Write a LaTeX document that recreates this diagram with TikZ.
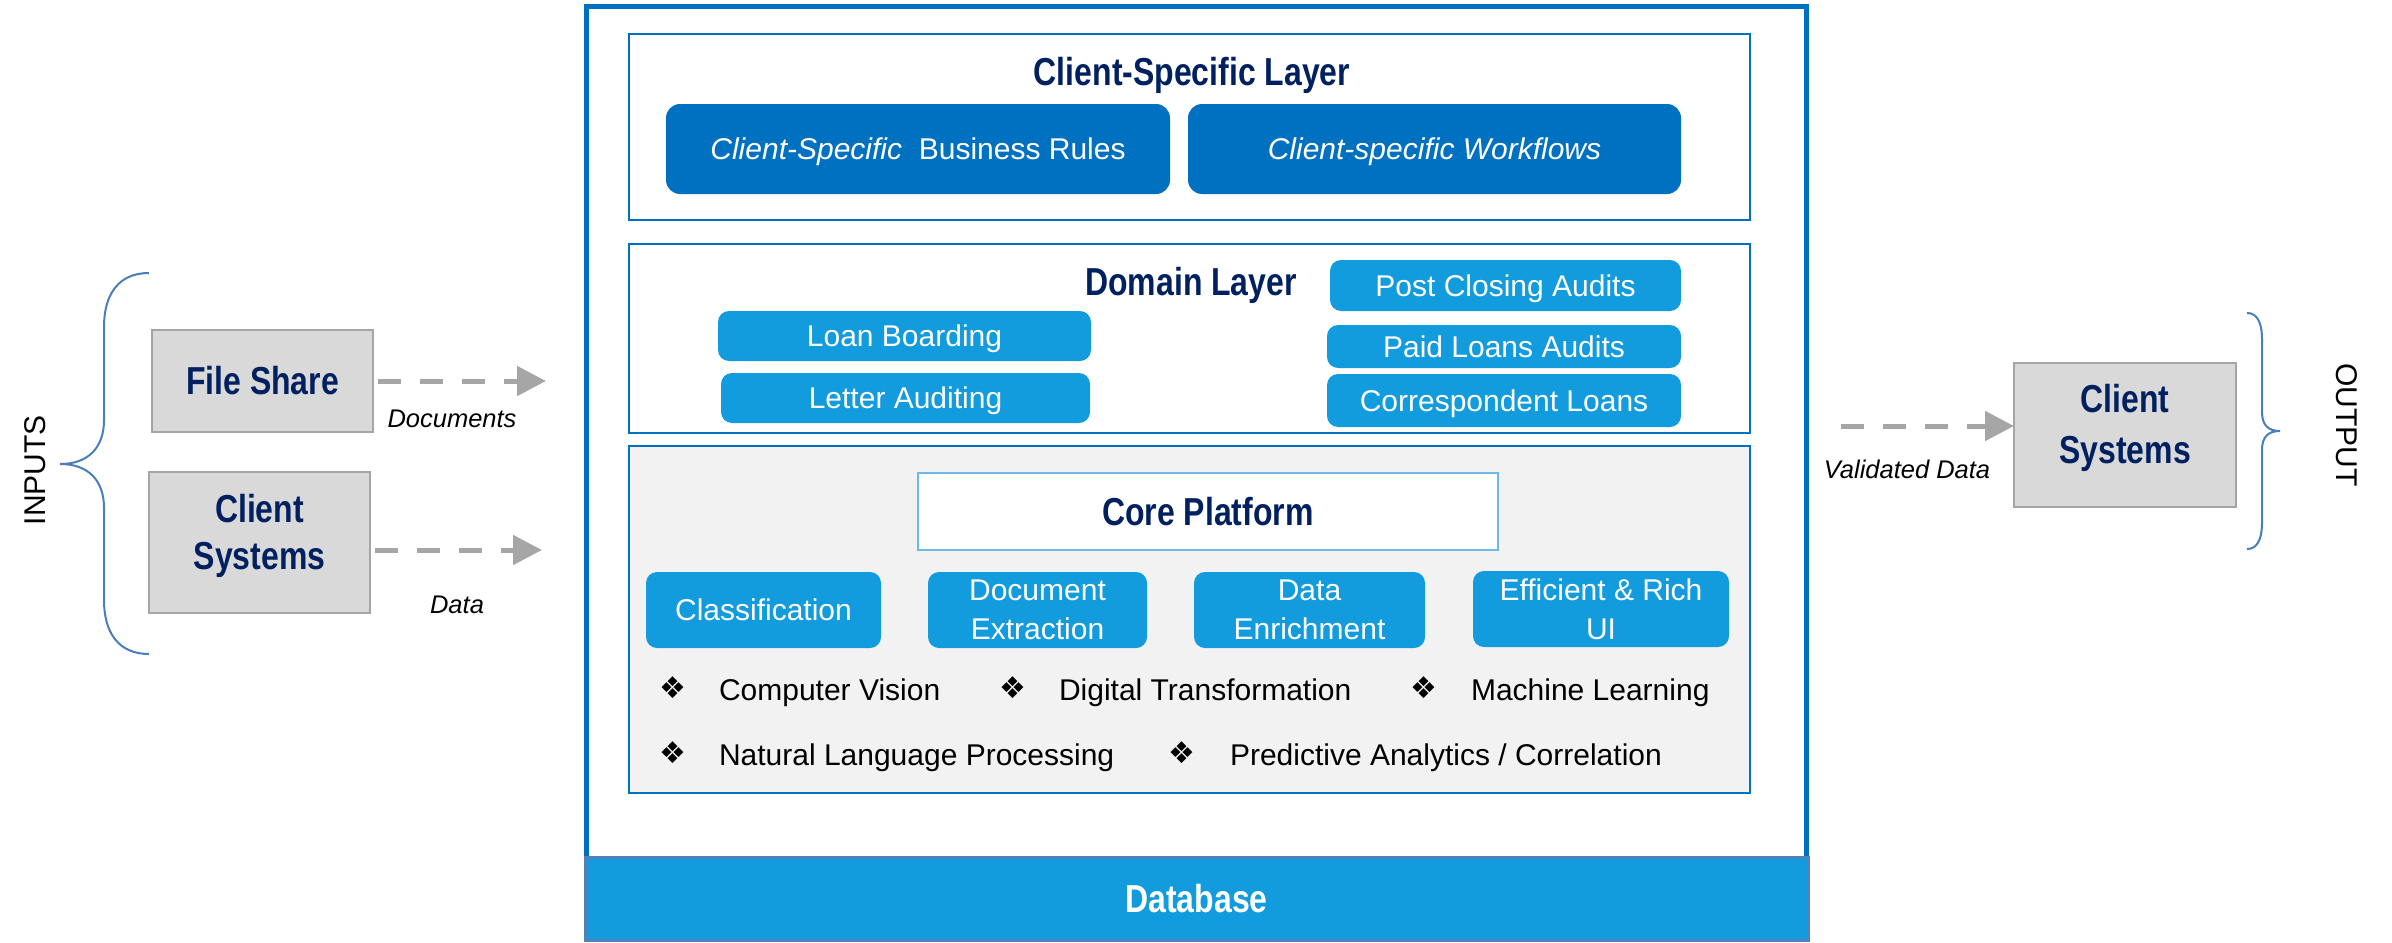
\documentclass[tikz,border=0pt]{standalone}
\usepackage{fontspec}
\setmainfont{Liberation Sans}
\newfontfamily\condfont[FakeStretch=0.82]{Liberation Sans}
\newfontfamily\symfont{DejaVu Sans}
\usetikzlibrary{fit,arrows.meta}
\definecolor{navy}{RGB}{0,32,96}
\definecolor{dblue}{RGB}{0,112,192}
\definecolor{lblue}{RGB}{18,155,221}
\definecolor{boxgrey}{RGB}{217,217,217}
\definecolor{edgegrey}{RGB}{165,165,165}
\definecolor{arrowgrey}{RGB}{166,166,166}
\definecolor{coregrey}{RGB}{242,242,242}
\definecolor{bracecol}{RGB}{74,126,187}
\definecolor{dbedge}{RGB}{79,129,189}
\definecolor{cpedge}{RGB}{110,185,235}
\begin{document}
\begin{tikzpicture}[x=0.5pt,y=-0.5pt,
  every node/.style={inner sep=0pt,outer sep=0pt},
  bodyf/.style={font=\fontsize{15pt}{19.5pt}\selectfont},
  titlef/.style={font=\condfont\bfseries\fontsize{19.5pt}{23.5pt}\selectfont,text=navy},
  layerbox/.style={draw=dblue,line width=1pt},
  greybox/.style={draw=edgegrey,fill=boxgrey,line width=1pt},
  darkbtn/.style={fill=dblue,rounded corners=7pt,text=white,bodyf,text height=10.8pt,text depth=0pt},
  lightbtn/.style={fill=lblue,rounded corners=5.5pt,text=white,bodyf,text height=10.8pt,text depth=0pt},
  lightbtntwo/.style={fill=lblue,rounded corners=5.5pt,text=white,bodyf,align=center},
  bulletmark/.style={font=\symfont\fontsize{15pt}{17pt}\selectfont},
  itemtext/.style={bodyf,anchor=base west},
  flowlabel/.style={font=\itshape\fontsize{12.75pt}{15pt}\selectfont},
  flow/.style={draw=arrowgrey,line width=2.5pt,dash pattern=on 11.5pt off 9.5pt,-{Triangle[length=14.5pt,width=14.5pt]}},
  brace/.style={draw=bracecol,line width=1pt},
  sidetext/.style={font=\fontsize{15pt}{18pt}\selectfont}
]
\useasboundingbox (0,0) rectangle (2392,942);

% main frame
\node[draw=dblue,line width=2.5pt,fit={(586,6) (1806,930)}] (frame) {};

% client-specific layer
\node[layerbox,fit={(629,34) (1750,220)}] (cslayer) {};
\node[titlef,anchor=base] (cstitle) at (1192,85) {Client-Specific Layer};
\node[darkbtn,minimum width=252pt,minimum height=45pt] (rules) at (918,149) {\textit{Client-Specific}\ \ Business Rules};
\node[darkbtn,minimum width=246.5pt,minimum height=45pt] (flows) at (1434.5,149) {\textit{Client-specific Workflows}};

% domain layer
\node[layerbox,fit={(629,244) (1750,433)}] (domain) {};
\node[titlef,anchor=base] (domtitle) at (1191,295) {Domain Layer};
\node[lightbtn,minimum width=186.5pt,minimum height=25pt] (boarding) at (904.5,336) {Loan Boarding};
\node[lightbtn,minimum width=184.5pt,minimum height=25pt] (letter) at (905.5,398) {Letter Auditing};
\node[lightbtn,minimum width=175.5pt,minimum height=25.5pt] (postclose) at (1505.5,285.5) {Post Closing Audits};
\node[lightbtn,minimum width=177pt,minimum height=21.5pt] (paid) at (1504,346.5) {Paid Loans Audits};
\node[lightbtn,minimum width=177pt,minimum height=26.5pt] (corresp) at (1504,400.5) {Correspondent Loans};

% core platform
\node[layerbox,fill=coregrey,fit={(629,446) (1750,793)}] (core) {};
\node[draw=cpedge,fill=white,line width=1pt,titlef,minimum width=290pt,minimum height=38.5pt] (coretitle) at (1208,511.5) {Core Platform};
\node[lightbtn,minimum width=117.5pt,minimum height=38pt] (classif) at (763.5,610) {Classification};
\node[lightbtntwo,minimum width=109.5pt,minimum height=38pt] (docext) at (1037.5,610) {Document\\Extraction};
\node[lightbtntwo,minimum width=115.5pt,minimum height=38pt] (enrich) at (1309.5,610) {Data\\Enrichment};
\node[lightbtntwo,minimum width=128pt,minimum height=38pt] (richui) at (1601,609) {Efficient \& Rich\\UI};

\node[bulletmark] (m1) at (673,688) {❖};
\node[itemtext] (t1) at (719,700) {Computer Vision};
\node[bulletmark] (m2) at (1013,688) {❖};
\node[itemtext] (t2) at (1059,700) {Digital Transformation};
\node[bulletmark] (m3) at (1424,688) {❖};
\node[itemtext] (t3) at (1471,700) {Machine Learning};
\node[bulletmark] (m4) at (673,753) {❖};
\node[itemtext] (t4) at (719,765) {Natural Language Processing};
\node[bulletmark] (m5) at (1182,753) {❖};
\node[itemtext] (t5) at (1230,765) {Predictive Analytics / Correlation};

% database
\node[fill=lblue,draw=dbedge,line width=1.5pt,minimum width=611.5pt,minimum height=41.5pt,text=white,font=\condfont\bfseries\fontsize{19.5pt}{23pt}\selectfont] (db) at (1196.5,898.5) {Database};

% inputs
\node[greybox,titlef,minimum width=110.5pt,minimum height=51pt] (fileshare) at (262.5,381) {File Share};
\node[greybox,fit={(149,472) (370,613)}] (clientin) {};
\node[text=navy,font=\condfont\bfseries\fontsize{19.5pt}{23.5pt}\selectfont,align=center,anchor=north] (clientintext) at (259.5,494.5) {Client\\Systems};

\coordinate (docend) at (546,381);
\draw[flow,shorten <=2.5pt] (fileshare.east) -- (docend);
\node[flowlabel] (doclabel) at (452,419) {Documents};
\coordinate (dataend) at (542,550);
\draw[flow,shorten <=2.5pt] (clientin.east |- dataend) -- (dataend);
\node[flowlabel] (datalabel) at (457,605) {Data};

\node[sidetext,rotate=90] (inputs) at (35,470) {INPUTS};
\draw[brace] (149,273) .. controls (118,273) and (104,295) .. (104,327) -- (104,420)
  .. controls (104,448) and (88,464) .. (60,464)
  .. controls (88,464) and (104,480) .. (104,508) -- (104,600)
  .. controls (104,632) and (118,654) .. (149,654);

% output
\node[greybox,fit={(2014,363) (2236,507)}] (clientout) {};
\node[text=navy,font=\condfont\bfseries\fontsize{19.5pt}{25.5pt}\selectfont,align=center,anchor=north] (clientouttext) at (2125,384.5) {Client\\Systems};
\coordinate (valstart) at (1841,426);
\draw[flow] (valstart) -- (clientout.west |- valstart);
\node[flowlabel] (vallabel) at (1907,469) {Validated Data};

\node[sidetext,rotate=-90] (output) at (2347,425) {OUTPUT};
\draw[brace] (2247,313) .. controls (2257,313) and (2262,322) .. (2262,340) -- (2262,412)
  .. controls (2262,425) and (2268,431) .. (2280,431)
  .. controls (2268,431) and (2262,437) .. (2262,450) -- (2262,522)
  .. controls (2262,540) and (2257,549) .. (2247,549);
\end{tikzpicture}
\end{document}
